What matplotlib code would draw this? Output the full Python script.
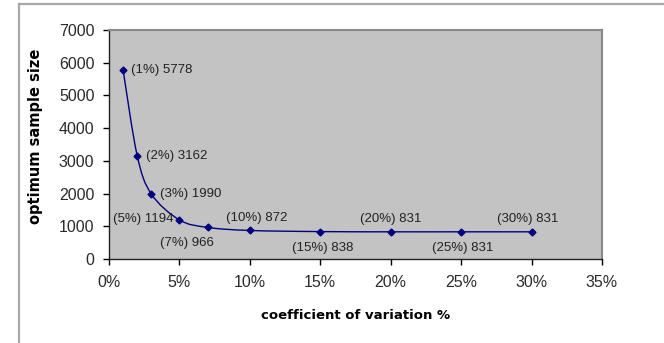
import numpy as np
import matplotlib.pyplot as plt
from matplotlib.path import Path
from matplotlib.patches import PathPatch
from matplotlib.lines import Line2D
from matplotlib.transforms import IdentityTransform
from matplotlib.ticker import FuncFormatter

plt.rcParams['font.family'] = ['Liberation Sans', 'DejaVu Sans']

# coefficient of variation (%) and the optimum sample size for each
cv = [1, 2, 3, 5, 7, 10, 15, 20, 25, 30]
sample_size = [5778, 3162, 1990, 1194, 966, 872, 838, 831, 831, 831]

# where each value label sits relative to its point (points offset, ha, va)
label_pos = [
    ((6, 0), 'left', 'center'),
    ((6, 0), 'left', 'center'),
    ((6, 0), 'left', 'center'),
    ((-4, 1), 'right', 'center'),
    ((-15, -11), 'center', 'center'),
    ((5, 9), 'center', 'center'),
    ((2, -12), 'center', 'center'),
    ((0, 9), 'center', 'center'),
    ((1, -12), 'center', 'center'),
    ((-3, 9), 'center', 'center'),
]

navy = '#000080'

fig = plt.figure(figsize=(6.64, 3.43), dpi=100)
ax = fig.add_axes([109 / 664, 1 - 259 / 343, 493 / 664, 229 / 343])
ax.set_facecolor('#c3c3c3')
ax.set_xlim(0, 35)
ax.set_ylim(0, 7000)
ax.set_xticks(range(0, 36, 5))
ax.set_yticks(range(0, 7001, 1000))
ax.xaxis.set_major_formatter(FuncFormatter(lambda v, p: f'{v:.0f}%'))
ax.tick_params(axis='both', direction='out', length=4.5, width=1,
               labelsize=11.5, colors='black', labelcolor='#2a2a2a')
ax.tick_params(axis='x', pad=7)
ax.tick_params(axis='y', pad=6)

for side in ('left', 'bottom'):
    ax.spines[side].set_color('#202020')
    ax.spines[side].set_linewidth(1.0)
for side in ('top', 'right'):
    ax.spines[side].set_color('#8a8a8a')
    ax.spines[side].set_linewidth(1.5)

ax.set_xlabel('coefficient of variation %', fontsize=9.5, fontweight='bold',
              family='DejaVu Sans', labelpad=14)
ax.set_ylabel('optimum sample size', fontsize=10.5, fontweight='bold',
              family='DejaVu Sans')
ax.yaxis.set_label_coords(-0.134, 0.537)

# smoothed line through the points (Catmull-Rom as cubic Beziers in pixel space)
pts = ax.transData.transform(np.column_stack([cv, sample_size]))
ext = np.vstack([pts[0], pts, pts[-1]])
verts = [tuple(pts[0])]
codes = [Path.MOVETO]
for i in range(1, len(ext) - 2):
    p0, p1, p2, p3 = ext[i - 1], ext[i], ext[i + 1], ext[i + 2]
    c1 = p1 + (p2 - p0) / 6
    c2 = p2 - (p3 - p1) / 6
    verts += [tuple(c1), tuple(c2), tuple(p2)]
    codes += [Path.CURVE4] * 3
curve = PathPatch(Path(verts, codes), transform=IdentityTransform(),
                  facecolor='none', edgecolor=navy, linewidth=1.0)
ax.add_artist(curve)

ax.plot(cv, sample_size, linestyle='none', marker='D', markersize=3.5,
        color=navy, zorder=3)

for x, y, (off, ha, va) in zip(cv, sample_size, label_pos):
    ax.annotate(f'({x}%) {y}', (x, y), xytext=off, textcoords='offset points',
                ha=ha, va=va, fontsize=9.5, color='#222222')

# outer chart frame
frame_kw = dict(color='#a9a9a9', linewidth=1.6, transform=fig.transFigure)
fig.add_artist(Line2D([19 / 664, 1], [1 - 4 / 343, 1 - 4 / 343], **frame_kw))
fig.add_artist(Line2D([19 / 664, 19 / 664], [0, 1 - 4 / 343], **frame_kw))

fig.savefig('out.png', dpi=100)
